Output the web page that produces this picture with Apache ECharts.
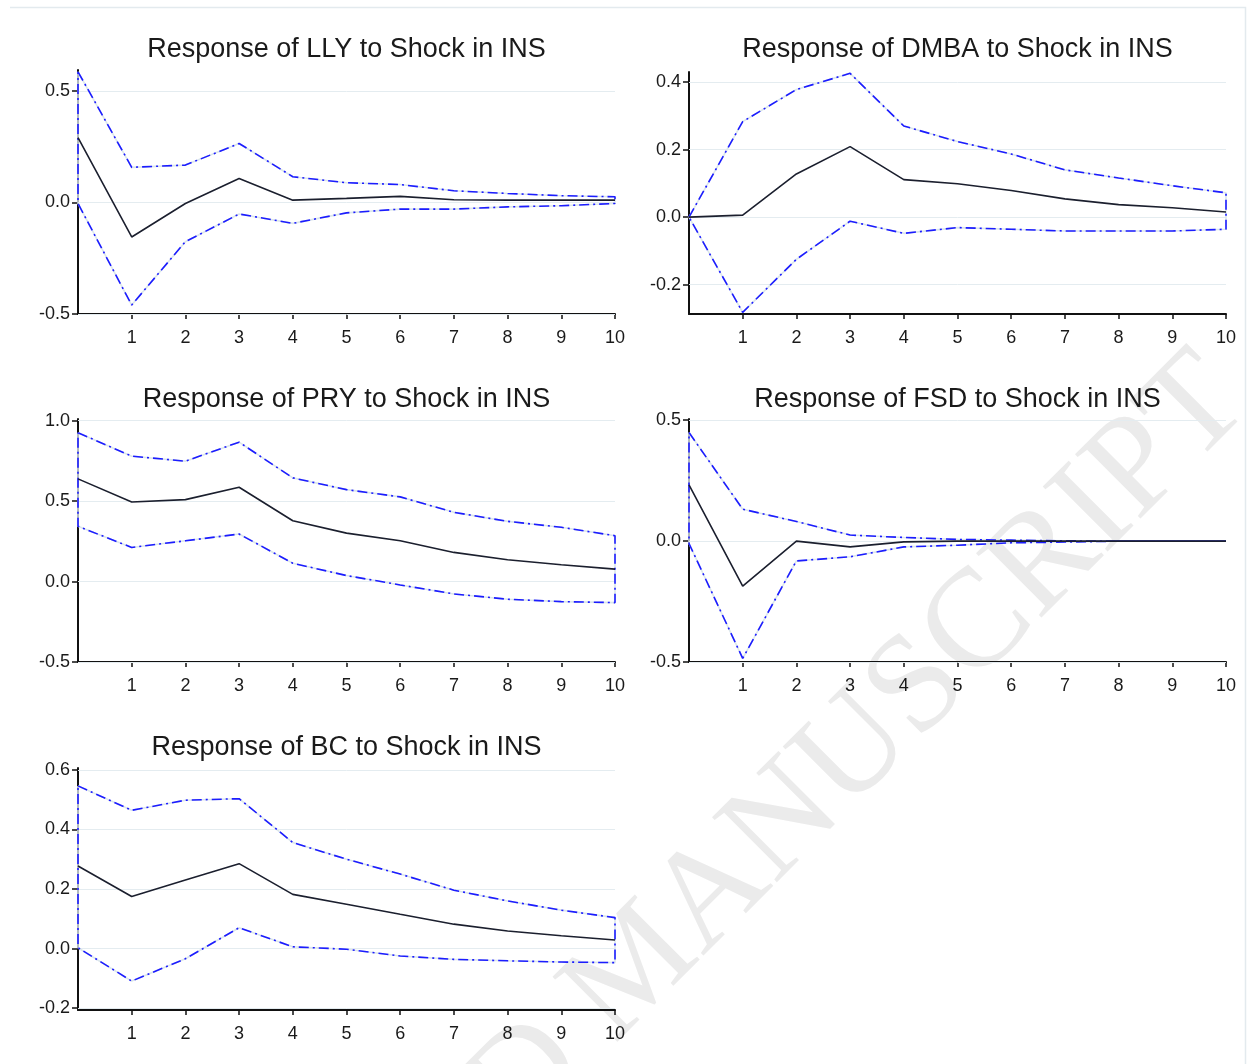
<!DOCTYPE html>
<html>
<head>
<meta charset="utf-8">
<script src="https://cdn.jsdelivr.net/npm/echarts@6/dist/echarts.min.js"></script>
<style>
  html, body { margin: 0; padding: 0; background: #ffffff; }
  #chart { width: 1251px; height: 1064px; }
</style>
</head>
<body>
<div id="chart"></div>
<script>
// Forecast horizons (periods after the shock)
const horizons = [0, 1, 2, 3, 4, 5, 6, 7, 8, 9, 10];
const xTickLabels = [1, 2, 3, 4, 5, 6, 7, 8, 9, 10];

// Response of LLY to Shock in INS
const llyResp  = [0.29, -0.155, -0.005, 0.107, 0.01, 0.018, 0.027, 0.012, 0.01, 0.01, 0.01];
const llyUpper = [0.585, 0.157, 0.167, 0.264, 0.115, 0.088, 0.08, 0.052, 0.04, 0.03, 0.025];
const llyLower = [-0.005, -0.46, -0.176, -0.052, -0.094, -0.047, -0.03, -0.03, -0.02, -0.015, -0.005];
const llyTicks = [-0.5, 0, 0.5];

// Response of DMBA to Shock in INS
const dmbaResp  = [0, 0.006, 0.128, 0.209, 0.111, 0.099, 0.079, 0.054, 0.037, 0.028, 0.015];
const dmbaUpper = [0, 0.283, 0.378, 0.426, 0.27, 0.224, 0.187, 0.14, 0.116, 0.093, 0.072];
const dmbaLower = [0, -0.282, -0.125, -0.012, -0.048, -0.031, -0.036, -0.041, -0.041, -0.041, -0.036];
const dmbaTicks = [-0.2, 0, 0.2, 0.4];

// Response of PRY to Shock in INS
const pryResp  = [0.638, 0.494, 0.509, 0.586, 0.378, 0.301, 0.253, 0.181, 0.135, 0.104, 0.077];
const pryUpper = [0.925, 0.779, 0.748, 0.866, 0.644, 0.571, 0.526, 0.43, 0.374, 0.337, 0.285];
const pryLower = [0.343, 0.212, 0.253, 0.295, 0.114, 0.037, -0.021, -0.077, -0.11, -0.125, -0.131];
const pryTicks = [-0.5, 0, 0.5, 1.0];

// Response of FSD to Shock in INS
const fsdResp  = [0.233, -0.186, 0.0, -0.024, -0.003, 0, 0, 0, 0, 0, 0];
const fsdUpper = [0.449, 0.132, 0.081, 0.025, 0.015, 0.007, 0.004, 0.001, 0, 0, 0];
const fsdLower = [-0.01, -0.485, -0.082, -0.065, -0.024, -0.017, -0.007, -0.004, 0, 0, 0];
const fsdTicks = [-0.5, 0, 0.5];

// Response of BC to Shock in INS
const bcResp  = [0.277, 0.175, 0.23, 0.285, 0.182, 0.149, 0.115, 0.082, 0.059, 0.043, 0.029];
const bcUpper = [0.546, 0.464, 0.498, 0.503, 0.356, 0.3, 0.25, 0.196, 0.16, 0.129, 0.104];
const bcLower = [0.003, -0.109, -0.034, 0.07, 0.006, -0.002, -0.025, -0.036, -0.041, -0.045, -0.047];
const bcTicks = [-0.2, 0, 0.2, 0.4, 0.6];

const panels = [
  { title: 'Response of LLY to Shock in INS',  resp: llyResp,  upper: llyUpper,  lower: llyLower,  ticks: llyTicks,
    yMin: -0.5,   yMax: 0.593, box: { left: 78,  top: 70,  width: 537, height: 244 }, titleY: 36 },
  { title: 'Response of DMBA to Shock in INS', resp: dmbaResp, upper: dmbaUpper, lower: dmbaLower, ticks: dmbaTicks,
    yMin: -0.287, yMax: 0.43,  box: { left: 689, top: 72,  width: 537, height: 242 }, titleY: 36 },
  { title: 'Response of PRY to Shock in INS',  resp: pryResp,  upper: pryUpper,  lower: pryLower,  ticks: pryTicks,
    yMin: -0.5,   yMax: 1.01,  box: { left: 78,  top: 419, width: 537, height: 243 }, titleY: 386 },
  { title: 'Response of FSD to Shock in INS',  resp: fsdResp,  upper: fsdUpper,  lower: fsdLower,  ticks: fsdTicks,
    yMin: -0.5,   yMax: 0.505, box: { left: 689, top: 419, width: 537, height: 243 }, titleY: 386 },
  { title: 'Response of BC to Shock in INS',   resp: bcResp,   upper: bcUpper,   lower: bcLower,   ticks: bcTicks,
    yMin: -0.206, yMax: 0.606, box: { left: 78,  top: 768, width: 537, height: 242 }, titleY: 734 }
];

const FONT = '"Liberation Sans", Arial, Helvetica, sans-serif';
const TEXT_COLOR = '#1a1a1a';
const AXIS_COLOR = '#111111';
const GRID_COLOR = '#e4ecf0';
const BAND_COLOR = '#1c1cff';
const BAND_GHOST = '#dbe6eb';
const RESP_COLOR = '#1b1f2e';

const grids = [], xAxes = [], yAxes = [], series = [], graphics = [];

panels.forEach((p, k) => {
  grids.push(Object.assign({ containLabel: false }, p.box));

  xAxes.push({
    type: 'value', gridIndex: k, min: 0, max: 10, interval: 1,
    axisLine: { show: true, onZero: false, lineStyle: { color: AXIS_COLOR, width: 2 } },
    axisTick: { show: true, inside: false, length: 5, customValues: xTickLabels,
                lineStyle: { color: AXIS_COLOR, width: 1.5 } },
    axisLabel: { show: true, customValues: xTickLabels, margin: 15, fontSize: 18,
                 fontFamily: FONT, color: TEXT_COLOR },
    splitLine: { show: false }
  });

  yAxes.push({
    type: 'value', gridIndex: k, min: p.yMin, max: p.yMax,
    axisLine: { show: true, onZero: false, lineStyle: { color: AXIS_COLOR, width: 2 } },
    axisTick: { show: true, inside: false, length: 6, customValues: p.ticks,
                lineStyle: { color: AXIS_COLOR, width: 1.5 } },
    axisLabel: { show: true, customValues: p.ticks, margin: 8, fontSize: 18,
                 fontFamily: FONT, color: TEXT_COLOR,
                 formatter: v => Number(v).toFixed(1) },
    splitLine: { show: false }
  });

  // Confidence band drawn as one closed outline: upper bound forward, lower bound back
  const band = horizons.map((h, i) => [h, p.upper[i]])
    .concat(horizons.slice().reverse().map(h => [h, p.lower[horizons.indexOf(h)]]))
    .concat([[horizons[0], p.upper[0]]]);

  series.push({
    type: 'line', xAxisIndex: k, yAxisIndex: k, data: band, z: 3,
    symbol: 'none', silent: true, animation: false,
    lineStyle: { color: BAND_GHOST, width: 1.6 },
    markLine: {
      silent: true, symbol: 'none', z: 1, animation: false,
      label: { show: false },
      lineStyle: { color: GRID_COLOR, width: 1, type: 'solid' },
      data: p.ticks.map(v => ({ yAxis: v }))
    }
  });
  series.push({
    type: 'line', xAxisIndex: k, yAxisIndex: k, data: band, z: 4,
    symbol: 'none', silent: true, animation: false,
    lineStyle: { color: BAND_COLOR, width: 1.6, type: [10, 4, 2, 4] }
  });
  series.push({
    type: 'line', xAxisIndex: k, yAxisIndex: k, z: 5,
    data: horizons.map((h, i) => [h, p.resp[i]]),
    symbol: 'none', silent: true, animation: false,
    lineStyle: { color: RESP_COLOR, width: 1.6 }
  });

  graphics.push({
    type: 'text', x: p.box.left + p.box.width / 2, y: p.titleY, z: 10,
    style: { text: p.title, fill: TEXT_COLOR, font: '27px ' + FONT,
             align: 'center', verticalAlign: 'top', textAlign: 'center', textVerticalAlign: 'top' }
  });
});

// Page frame lines
graphics.push({
  type: 'polyline', z: -2, silent: true,
  shape: { points: [[10, 7.5], [1245.5, 7.5], [1245.5, 1064]] },
  style: { stroke: '#e3eaee', lineWidth: 1.5, fill: null }
});

// Diagonal watermark
const wmStyle = { fill: '#ebebeb', font: '140px "Liberation Serif", "Times New Roman", serif' };
const wmX = 638, wmY = 1068;
graphics.push({
  type: 'text', x: wmX, y: wmY, rotation: Math.PI / 4, z: -1, silent: true,
  style: Object.assign({ text: 'MANUSCRIPT', align: 'left', verticalAlign: 'bottom',
                         textAlign: 'left', textVerticalAlign: 'bottom' }, wmStyle)
});
graphics.push({
  type: 'text', x: wmX, y: wmY, rotation: Math.PI / 4, z: -1, silent: true,
  style: Object.assign({ text: 'ACCEPTED ', align: 'right', verticalAlign: 'bottom',
                         textAlign: 'right', textVerticalAlign: 'bottom' }, wmStyle)
});

const chart = echarts.init(document.getElementById('chart'), null, { renderer: 'canvas' });
chart.setOption({
  backgroundColor: '#ffffff',
  animation: false,
  grid: grids,
  xAxis: xAxes,
  yAxis: yAxes,
  series: series,
  graphic: graphics
});
</script>
</body>
</html>
